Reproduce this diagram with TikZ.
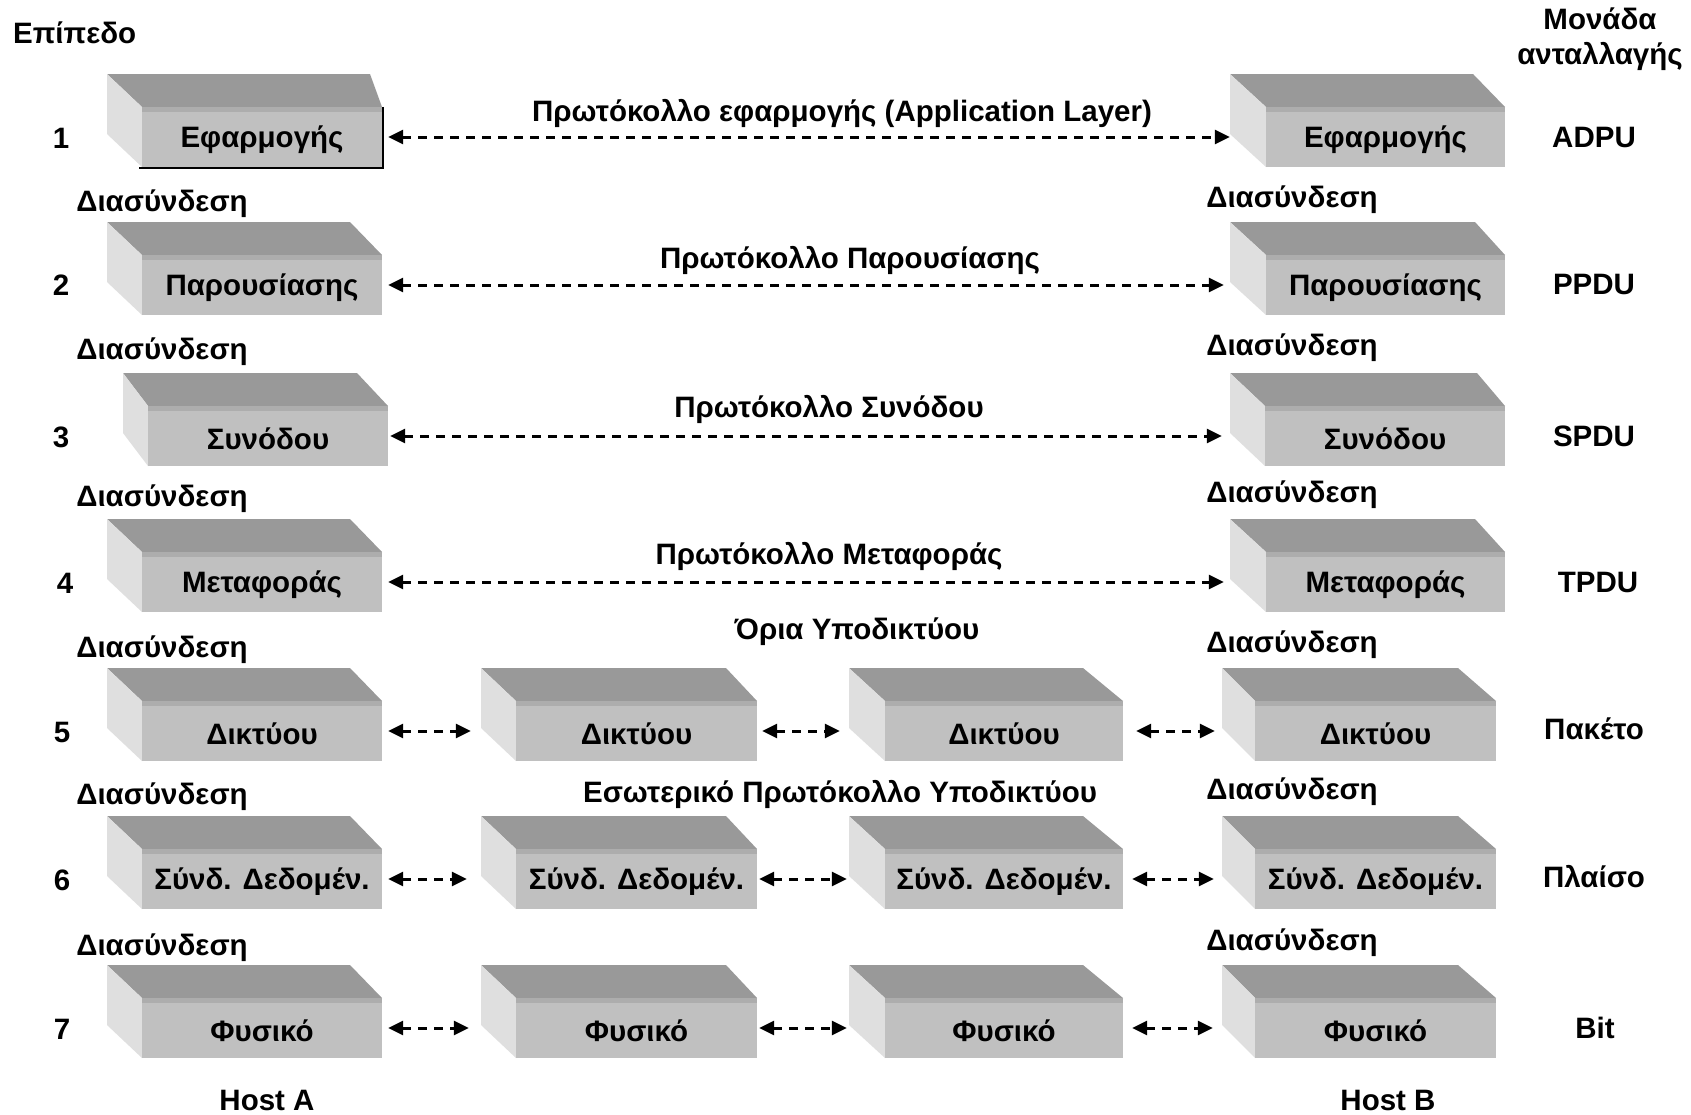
\documentclass[tikz,border=0pt]{standalone}
\usepackage{fontspec}
\setmainfont{Liberation Sans}
\usetikzlibrary{arrows.meta}
\definecolor{topc}{HTML}{999999}
\definecolor{frontc}{HTML}{C0C0C0}
\definecolor{sidec}{HTML}{DFDFDF}
\definecolor{bandc}{HTML}{ADADAD}
% #1 name, #2 front left x, #3 front right x, #4 back top y, #5 left depth, #6 right depth, #7 text
\newcommand\osibox[7]{%
  \fill[topc] (#2-#5,#4) -- (#3-#6,#4) -- (#3,#4+33) -- (#2,#4+33) -- cycle;
  \fill[sidec] (#2-#5,#4) -- (#2,#4+33) -- (#2,#4+93) -- (#2-#5,#4+60) -- cycle;
  \node[frontbox, minimum width={#3pt-#2pt}] (#1) at ({(#2+#3)/2},#4+63) {};
  \fill[bandc] (#1.north west) rectangle ([yshift=-5pt]#1.north east);
  \node[lbl] (#1t) at ([yshift=-3pt]#1.center) {#7};
}
\begin{document}
\begin{tikzpicture}[x=1pt,y=-1pt,
  frontbox/.style={rectangle, fill=frontc, minimum height=60pt, inner sep=0pt},
  lbl/.style={font=\bfseries\fontsize{29.5}{33}\selectfont, inner sep=0pt, text=black},
  conn/.style={line width=3pt, dash pattern=on 9pt off 7pt,
    arrows={Triangle[length=15pt,width=14pt]-Triangle[length=15pt,width=14pt]}}]
\fill[white] (0,0) rectangle (1691,1114);
\useasboundingbox (0,0) rectangle (1691,1114);

% headings
\node[lbl, anchor=west] (hlev) at (13,33) {Επίπεδο};
\node[lbl] (hunit1) at (1600,19) {Μονάδα};
\node[lbl] (hunit2) at (1600,56) {ανταλλαγής};

% row 1
\osibox{L1}{142}{382}{74}{35}{12}{Εφαρμογής}
\draw[line width=2pt] ([xshift=1pt]L1.north east) -- ([xshift=1pt,yshift=-1pt]L1.south east) -- ([xshift=-3pt,yshift=-1pt]L1.south west);
\osibox{R1}{1266}{1505}{74}{36}{32}{Εφαρμογής}
\draw[conn] ([xshift=6pt]L1.east) -- ([xshift=-36pt]R1.west);
\node[lbl] (p1) at (842,113) {Πρωτόκολλο εφαρμογής (Application Layer)};

% row 2
\osibox{L2}{142}{382}{222}{35}{32}{Παρουσίασης}
\osibox{R2}{1266}{1505}{222}{36}{30}{Παρουσίασης}
\draw[conn] ([xshift=6pt]L2.east) -- ([xshift=-42pt]R2.west);
\node[lbl] (p2) at (850,260) {Πρωτόκολλο Παρουσίασης};

% row 3
\osibox{L3}{148}{388}{373}{25}{31}{Συνόδου}
\osibox{R3}{1265}{1505}{373}{35}{28}{Συνόδου}
\draw[conn] ([xshift=2pt]L3.east) -- ([xshift=-43pt]R3.west);
\node[lbl] (p3) at (829,409) {Πρωτόκολλο Συνόδου};

% row 4
\osibox{L4}{142}{382}{519}{35}{32}{Μεταφοράς}
\osibox{R4}{1266}{1505}{519}{36}{30}{Μεταφοράς}
\draw[conn] ([xshift=6pt]L4.east) -- ([xshift=-42pt]R4.west);
\node[lbl] (p4) at (829,556) {Πρωτόκολλο Μεταφοράς};
\node[lbl] (p5) at (857,632) {Όρια Υποδικτύου};

% row 5
\osibox{L5}{142}{382}{668}{35}{32}{Δικτύου}
\osibox{A5}{516}{757}{668}{35}{31}{Δικτύου}
\osibox{B5}{885}{1123}{668}{36}{40}{Δικτύου}
\osibox{R5}{1255}{1496}{668}{33}{38}{Δικτύου}
\draw[conn] ([xshift=6pt]L5.east) -- ([xshift=-45pt]A5.west);
\draw[conn] ([xshift=5pt]A5.east) -- ([xshift=-45pt]B5.west);
\draw[conn] ([xshift=13pt]B5.east) -- ([xshift=-40pt]R5.west);
\node[lbl] (p6) at (840,794) {Εσωτερικό Πρωτόκολλο Υποδικτύου};

% row 6
\osibox{L6}{142}{382}{816}{35}{32}{Σύνδ. Δεδομέν.}
\osibox{A6}{516}{757}{816}{35}{31}{Σύνδ. Δεδομέν.}
\osibox{B6}{885}{1123}{816}{36}{40}{Σύνδ. Δεδομέν.}
\osibox{R6}{1255}{1496}{816}{33}{38}{Σύνδ. Δεδομέν.}
\draw[conn] ([xshift=6pt]L6.east) -- ([xshift=-49pt]A6.west);
\draw[conn] ([xshift=2pt]A6.east) -- ([xshift=-38pt]B6.west);
\draw[conn] ([xshift=9pt]B6.east) -- ([xshift=-41pt]R6.west);

% row 7
\osibox{L7}{142}{382}{965}{35}{32}{Φυσικό}
\osibox{A7}{516}{757}{965}{35}{31}{Φυσικό}
\osibox{B7}{885}{1123}{965}{36}{40}{Φυσικό}
\osibox{R7}{1255}{1496}{965}{33}{38}{Φυσικό}
\draw[conn] ([xshift=6pt]L7.east) -- ([xshift=-47pt]A7.west);
\draw[conn] ([xshift=2pt]A7.east) -- ([xshift=-38pt]B7.west);
\draw[conn] ([xshift=9pt]B7.east) -- ([xshift=-42pt]R7.west);

% interface labels
\node[lbl] (il1) at (162,204) {Διασύνδεση};
\node[lbl] (il2) at (162,352) {Διασύνδεση};
\node[lbl] (il3) at (162,499) {Διασύνδεση};
\node[lbl] (il4) at (162,650) {Διασύνδεση};
\node[lbl] (il5) at (162,797) {Διασύνδεση};
\node[lbl] (il6) at (162,948) {Διασύνδεση};
\node[lbl] (ir1) at (1292,200) {Διασύνδεση};
\node[lbl] (ir2) at (1292,348) {Διασύνδεση};
\node[lbl] (ir3) at (1292,495) {Διασύνδεση};
\node[lbl] (ir4) at (1292,645) {Διασύνδεση};
\node[lbl] (ir5) at (1292,792) {Διασύνδεση};
\node[lbl] (ir6) at (1292,943) {Διασύνδεση};

% level numbers
\node[lbl] (n1) at (61,138) {1};
\node[lbl] (n2) at (61,285) {2};
\node[lbl] (n3) at (61,437) {3};
\node[lbl] (n4) at (65,583) {4};
\node[lbl] (n5) at (62,732) {5};
\node[lbl] (n6) at (62,880) {6};
\node[lbl] (n7) at (62,1029) {7};

% units
\node[lbl] (u1) at (1594,137) {ADPU};
\node[lbl] (u2) at (1594,284) {PPDU};
\node[lbl] (u3) at (1594,436) {SPDU};
\node[lbl] (u4) at (1598,582) {TPDU};
\node[lbl] (u5) at (1594,729) {Πακέτο};
\node[lbl] (u6) at (1594,877) {Πλαίσο};
\node[lbl] (u7) at (1595,1028) {Bit};

% hosts
\node[lbl] (hA) at (267,1100) {Host A};
\node[lbl] (hB) at (1388,1100) {Host B};
\end{tikzpicture}
\end{document}
